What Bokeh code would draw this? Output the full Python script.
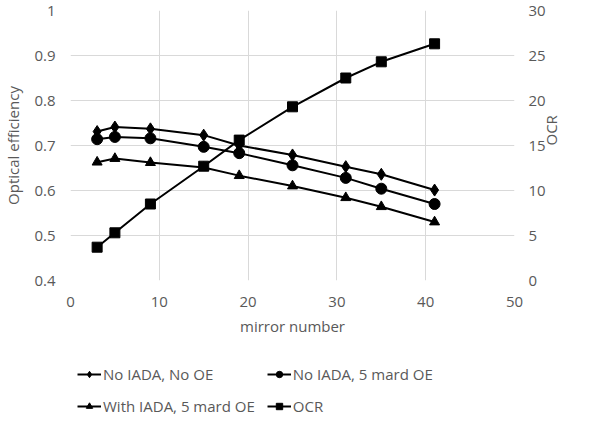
import math
from bokeh.plotting import figure
from bokeh.layouts import column
from bokeh.models import Range1d, LinearAxis, FixedTicker, Legend, LegendItem
from bokeh.embed import file_html
from bokeh.resources import INLINE

# ---- data ----
mirror = [3, 5, 9, 15, 19, 25, 31, 35, 41]
no_iada_no_oe = [0.731, 0.741, 0.737, 0.723, 0.700, 0.679, 0.653, 0.636, 0.601]
no_iada_5mard = [0.714, 0.719, 0.716, 0.697, 0.683, 0.656, 0.628, 0.604, 0.570]
with_iada_5mard = [0.663, 0.671, 0.662, 0.651, 0.633, 0.610, 0.584, 0.564, 0.530]
ocr = [3.7, 5.3, 8.5, 12.7, 15.6, 19.3, 22.5, 24.3, 26.3]

x_ticks = [0, 10, 20, 30, 40, 50]
y_ticks = [0.4, 0.5, 0.6, 0.7, 0.8, 0.9, 1.0]
y_tick_labels = ["0.4", "0.5", "0.6", "0.7", "0.8", "0.9", "1"]
y2_ticks = [0, 5, 10, 15, 20, 25, 30]

series_names = ["No IADA, No OE", "No IADA, 5 mard OE", "With IADA, 5 mard OE", "OCR"]
markers = ["diamond", "circle", "triangle", "square"]
marker_sizes = [12, 11, 10, 10]
series_values = [no_iada_no_oe, no_iada_5mard, with_iada_5mard, ocr]

FONT = "Open Sans"
TXT = "#595959"
GRID = "#d9d9d9"
FS = "15px"

p = figure(width=582, height=360, output_backend="svg", toolbar_location=None,
           x_range=Range1d(0, 50), y_range=Range1d(0.4, 1.0),
           min_border_left=62, min_border_right=68, min_border_top=10, min_border_bottom=80)
p.outline_line_color = None
p.extra_y_ranges = {"ocr": Range1d(0, 30)}

def style_axis(ax):
    ax.axis_line_color = None
    ax.major_tick_line_color = None
    ax.minor_tick_line_color = None
    ax.major_tick_in = 0
    ax.major_tick_out = 0
    ax.major_label_text_font = FONT
    ax.major_label_text_font_size = FS
    ax.major_label_text_color = TXT
    ax.axis_label_text_font = FONT
    ax.axis_label_text_font_size = FS
    ax.axis_label_text_font_style = "normal"
    ax.axis_label_text_color = TXT

p.xaxis.ticker = FixedTicker(ticks=x_ticks)
p.xaxis.axis_label = "mirror number"
p.yaxis.ticker = FixedTicker(ticks=y_ticks)
p.yaxis.major_label_overrides = {t: l for t, l in zip(y_ticks, y_tick_labels)}
p.yaxis.axis_label = "Optical efficiency"
style_axis(p.xaxis[0])
style_axis(p.yaxis[0])
p.xaxis.major_label_standoff = 16
p.xaxis.axis_label_standoff = 6
p.yaxis.major_label_standoff = 15
p.yaxis.axis_label_standoff = 8

ax2 = LinearAxis(y_range_name="ocr", ticker=FixedTicker(ticks=y2_ticks), axis_label="OCR")
style_axis(ax2)
ax2.major_label_standoff = 14
ax2.axis_label_standoff = 2
ax2.axis_label_orientation = math.pi / 2
p.add_layout(ax2, "right")

p.xgrid.grid_line_color = GRID
p.ygrid.grid_line_color = GRID

for vals, mk, ms in zip(series_values, markers, marker_sizes):
    kw = {"y_range_name": "ocr"} if vals is ocr else {}
    p.line(mirror, vals, line_color="black", line_width=2, **kw)
    p.scatter(mirror, vals, marker=mk, size=ms, color="black", **kw)

# ---- legend strip (own small figure; its renderers lie outside its view) ----
q = figure(width=582, height=57, output_backend="svg", toolbar_location=None,
           x_range=Range1d(-20, -19), y_range=Range1d(0, 1),
           x_axis_type=None, y_axis_type=None, min_border=0)
q.outline_line_color = None
q.xgrid.grid_line_color = None
q.ygrid.grid_line_color = None
items = []
for name, vals, mk, ms in zip(series_names, series_values, markers, marker_sizes):
    lr = q.line(mirror, vals, line_color="black", line_width=2)
    sr = q.scatter(mirror, vals, marker=mk, size=ms, color="black")
    items.append(LegendItem(label=name, renderers=[lr, sr]))

# Bokeh fills legend columns first; order so rows read as in the reference
legend = Legend(items=[items[0], items[2], items[1], items[3]], ncols=2,
                location=(7, 1))
legend.border_line_color = None
legend.background_fill_alpha = 0
legend.label_text_font = FONT
legend.label_text_font_size = FS
legend.label_text_color = TXT
legend.glyph_width = 24
legend.glyph_height = 16
legend.label_standoff = 2
legend.spacing = 12
legend.padding = 0
legend.margin = 0
legend.label_height = 16
q.add_layout(legend, "center")

layout = column(p, q, spacing=0)
open("out.html", "w").write(file_html(layout, INLINE))
